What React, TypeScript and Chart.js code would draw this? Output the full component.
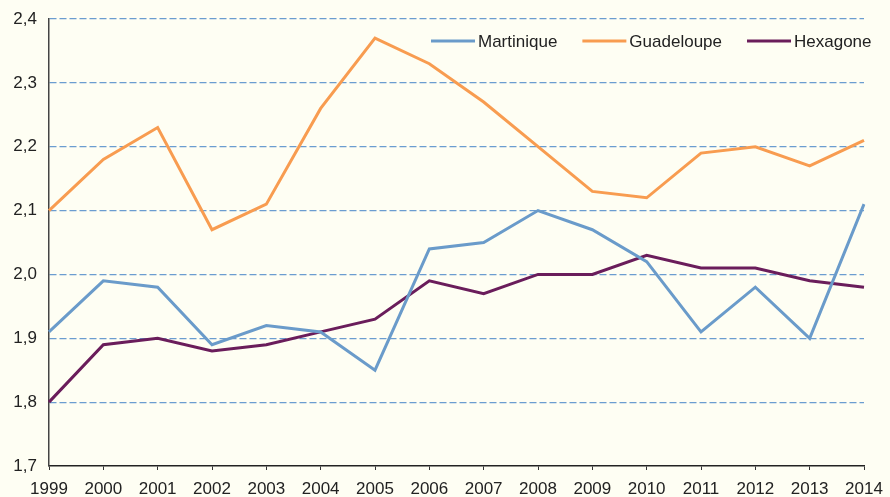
import React, { useEffect, useRef } from "react";
import Chart from "chart.js/auto";

const years = ["1999","2000","2001","2002","2003","2004","2005","2006","2007","2008","2009","2010","2011","2012","2013","2014"];
const martinique = [1.91,1.99,1.98,1.89,1.92,1.91,1.85,2.04,2.05,2.10,2.07,2.02,1.91,1.98,1.90,2.11];
const guadeloupe = [2.10,2.18,2.23,2.07,2.11,2.26,2.37,2.33,2.27,2.20,2.13,2.12,2.19,2.20,2.17,2.21];
const hexagone = [1.80,1.89,1.90,1.88,1.89,1.91,1.93,1.99,1.97,2.00,2.00,2.03,2.01,2.01,1.99,1.98];
const seriesLabels = ["Martinique","Guadeloupe","Hexagone"];
const seriesColors = ["#6a9bca","#f89c50","#6a1d5b"];

const FONT = "'Liberation Sans', Arial, Helvetica, sans-serif";
const FONT_SIZE = 17;
const BG = "#fefef3";

const legendPlugin = {
  id: "innerLegend",
  afterDraw(chart: any) {
    const ctx = chart.ctx;
    ctx.save();
    ctx.font = `${FONT_SIZE}px ${FONT}`;
    ctx.textBaseline = "middle";
    ctx.textAlign = "left";
    let x = 431;
    const y = 41;
    chart.data.datasets.forEach((ds: any) => {
      ctx.strokeStyle = ds.borderColor;
      ctx.lineWidth = 3;
      ctx.beginPath();
      ctx.moveTo(x, y);
      ctx.lineTo(x + 44, y);
      ctx.stroke();
      ctx.fillStyle = "#222";
      ctx.fillText(ds.label, x + 47, y + 1);
      x += 47 + ctx.measureText(ds.label).width + 25;
    });
    ctx.restore();
  },
};

export default function App() {
  const ref = useRef<HTMLCanvasElement>(null);
  useEffect(() => {
    if (!ref.current) return;
    const values = [martinique, guadeloupe, hexagone];
    const chart = new Chart(ref.current, {
      type: "line",
      data: {
        labels: years,
        datasets: values.map((v, i) => ({
          label: seriesLabels[i],
          data: v,
          borderColor: seriesColors[i],
          backgroundColor: seriesColors[i],
          borderWidth: 3,
          pointRadius: 0,
          tension: 0,
          fill: false,
        })),
      },
      options: {
        animation: false,
        responsive: true,
        maintainAspectRatio: false,
        layout: { padding: { left: 0, right: 26, top: 19, bottom: 0 } },
        plugins: { legend: { display: false }, tooltip: { enabled: false } },
        scales: {
          x: {
            offset: false,
            afterFit: (s: any) => { s.height = 31; s.paddingLeft = 0; s.paddingRight = 0; },
            grid: {
              display: true,
              drawOnChartArea: false,
              drawTicks: true,
              tickLength: 4,
              color: "#333",
            },
            border: { display: true, color: "#222", width: 1.5 },
            ticks: {
              color: "#222",
              font: { family: FONT, size: FONT_SIZE },
              padding: 9,
              maxRotation: 0,
              autoSkip: false,
            },
          },
          y: {
            min: 1.7,
            max: 2.4,
            afterFit: (s: any) => { s.width = 49; s.paddingTop = 0; s.paddingBottom = 0; },
            grid: {
              drawTicks: false,
              lineWidth: 1.2,
              color: (c: any) => (c.tick && Math.abs(c.tick.value - 1.7) < 1e-6 ? "transparent" : "#6b9dd0"),
            },
            border: { display: true, color: "#444", width: 1.5, dash: [7, 3] },
            ticks: {
              stepSize: 0.1,
              color: "#222",
              padding: 12,
              font: { family: FONT, size: FONT_SIZE },
              callback: (v: any) => Number(v).toFixed(1).replace(".", ","),
            },
          },
        },
      },
      plugins: [legendPlugin],
    });
    return () => chart.destroy();
  }, []);
  return (
    <div style={{ position: "fixed", left: 0, top: 0, width: 890, height: 497, background: BG }}>
      <canvas ref={ref} />
    </div>
  );
}
